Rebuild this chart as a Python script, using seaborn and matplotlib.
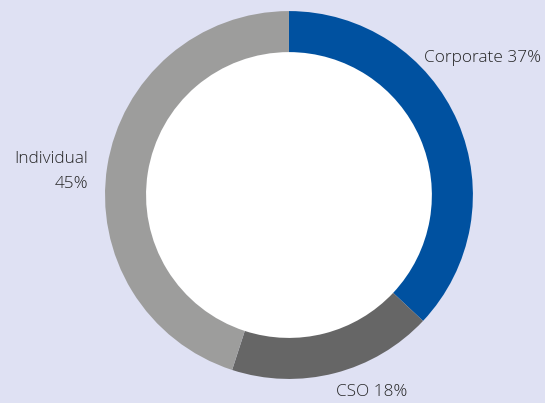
import matplotlib
matplotlib.use("Agg")
import matplotlib.pyplot as plt
import seaborn as sns

categories = ["Corporate", "CSO", "Individual"]
shares = [37, 18, 45]
colors = ["#0051a0", "#666666", "#9d9d9c"]

sns.set_theme(style="white")
plt.rcParams["font.family"] = ["Open Sans", "DejaVu Sans"]

bg = "#dfe1f3"
fig = plt.figure(figsize=(5.45, 4.03), dpi=100, facecolor=bg)
ax = fig.add_axes([0.1927, 0.0596, 0.675, 0.913])
ax.set_facecolor("none")
ax.pie(shares, colors=colors, startangle=90, counterclock=False, radius=1,
       wedgeprops=dict(width=0.223, edgecolor="none", linewidth=0))
ax.add_patch(plt.Circle((0, 0), 0.777, color="white", zorder=0))
ax.set_xlim(-1, 1)
ax.set_ylim(-1, 1)
ax.set_aspect("equal")
ax.axis("off")

tc = "#262626"
fs = 12.4
fw = "light"
ax.text(0.734, 0.745, f"{categories[0]} {shares[0]}%", ha="left", va="center",
        fontsize=fs, color=tc, clip_on=False, fontweight=fw)
ax.text(0.451, -1.07, f"{categories[1]} {shares[1]}%", ha="center", va="center",
        fontsize=fs, color=tc, clip_on=False, fontweight=fw)
ax.text(-1.092, 0.128, f"{categories[2]}\n{shares[2]}%", ha="right", va="center",
        fontsize=fs, color=tc, clip_on=False, linespacing=1.75, fontweight=fw)

fig.savefig("out.png", dpi=100, facecolor=bg)
